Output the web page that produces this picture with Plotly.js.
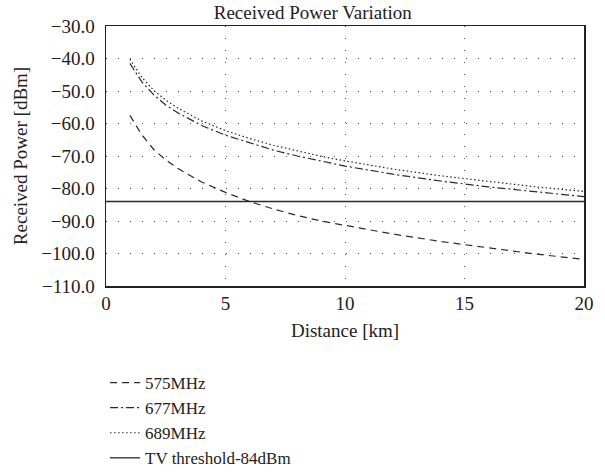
<!DOCTYPE html>
<html><head><meta charset="utf-8">
<script src="https://cdn.plot.ly/plotly-3.0.1.min.js"></script>
<style>html,body{margin:0;padding:0;background:#fff}#plot{width:605px;height:474px}</style>
</head><body><div id="plot"></div>
<script>
const distance = [1, 1.5, 2, 2.5, 3, 4, 5, 6, 7, 8, 9, 10, 12, 14, 16, 18, 20];
const p575 = [-57.5, -63.5, -68.0, -71.2, -73.8, -78.0, -81.2, -84.0, -86.3, -88.3, -90.0, -91.3, -94.0, -96.3, -98.3, -100.2, -101.8];
const p677 = [-41.5, -47.2, -51.2, -54.3, -56.7, -60.6, -63.6, -66.0, -68.2, -70.0, -71.6, -73.1, -75.6, -77.7, -79.5, -81.1, -82.5];
const p689 = [-40.2, -45.8, -49.8, -52.8, -55.2, -59.2, -62.2, -64.6, -66.7, -68.5, -70.1, -71.5, -74.0, -76.1, -77.9, -79.5, -80.9];
const thresholdX = [0, 20];
const thresholdY = [-84, -84];
const seriesNames = ["575MHz", "677MHz", "689MHz", "TV threshold-84dBm"];

const ink = "#2b2b2b";
const font = "'Liberation Serif', 'Times New Roman', serif";
const fs = 19;
const traces = [
  {x: distance, y: p575, name: seriesNames[0], mode: "lines", line: {color: ink, width: 1.2, dash: "7px,5px"}},
  {x: distance, y: p677, name: seriesNames[1], mode: "lines", line: {color: ink, width: 1.2, dash: "8px,3px,2px,3px"}},
  {x: distance, y: p689, name: seriesNames[2], mode: "lines", line: {color: ink, width: 1.2, dash: "1.5px,2.5px"}},
  {x: thresholdX, y: thresholdY, name: seriesNames[3], mode: "lines", line: {color: ink, width: 1.3}}
];
const layout = {
  width: 605, height: 474,
  margin: {l: 106, r: 21, t: 26, b: 188, autoexpand: false},
  paper_bgcolor: "#fff", plot_bgcolor: "#fff",
  font: {family: font, size: fs, color: "#222"},
  title: {text: "Received Power Variation", x: 0.517, xanchor: "center", y: 0.988, yanchor: "top", font: {family: font, size: fs, color: "#222"}},
  xaxis: {
    range: [0, 20], dtick: 5, tick0: 0,
    showline: true, mirror: true, linecolor: "#222", linewidth: 1.5,
    showgrid: true, gridcolor: "#555", gridwidth: 1, griddash: "1px,11px",
    zeroline: false, ticks: "", ticklabelstandoff: 0,
    title: {text: "Distance [km]", standoff: 10, font: {family: font, size: fs}},
    tickfont: {family: font, size: fs}
  },
  yaxis: {
    range: [-110, -30], dtick: 10, tick0: -110, tickformat: ".1f",
    showline: true, mirror: true, linecolor: "#222", linewidth: 1.5,
    showgrid: true, gridcolor: "#555", gridwidth: 1, griddash: "1px,11px",
    zeroline: false, ticks: "", ticklabelstandoff: 6,
    title: {text: "Received Power [dBm]", standoff: 8, font: {family: font, size: fs}},
    tickfont: {family: font, size: fs}
  },
  showlegend: true,
  legend: {x: -0.002, xanchor: "left", yref: "container", y: 0.23, yanchor: "top", orientation: "v",
    font: {family: font, size: 17, color: "#222"}, bgcolor: "rgba(0,0,0,0)", tracegroupgap: 0, itemwidth: 30}
};
Plotly.newPlot("plot", traces, layout, {displayModeBar: false, staticPlot: true});
</script></body></html>
